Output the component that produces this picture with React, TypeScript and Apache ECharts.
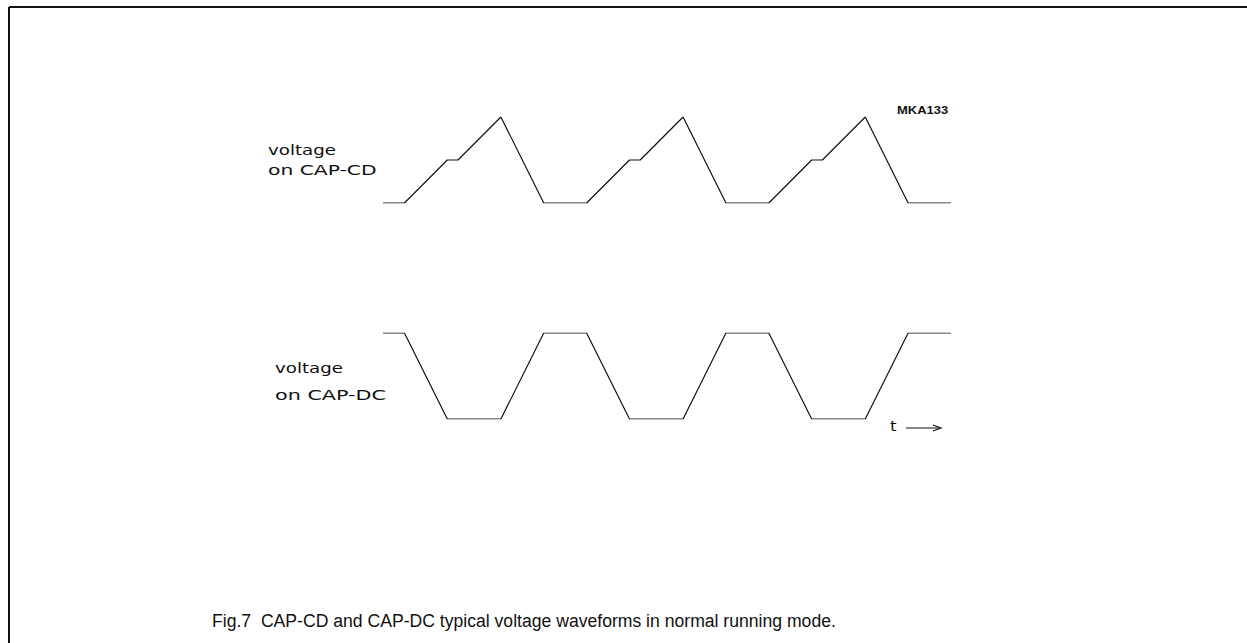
import React, { useEffect, useRef } from "react";
import * as echarts from "echarts";

// Time axis (arbitrary units) and voltage levels for each waveform
const cdTimes = [0, 1, 3, 3.5, 5.5, 7.5, 9.5, 11.5, 12, 14, 16, 18, 20, 20.5, 22.5, 24.5, 26.5];
const cdLevels = [0, 0, 1, 1, 2, 0, 0, 1, 1, 2, 0, 0, 1, 1, 2, 0, 0];
const dcTimes = [0, 1, 3, 5.5, 7.5, 9.5, 11.5, 14, 16, 18, 20, 22.5, 24.5, 26.5];
const dcLevels = [1, 1, 0, 0, 1, 1, 0, 0, 1, 1, 0, 0, 1, 1];

const cdLabel = ["voltage", "on CAP-CD"];
const dcLabel = ["voltage", "on CAP-DC"];
const figCode = "MKA133";
const timeLabel = "t";
const caption = "Fig.7  CAP-CD and CAP-DC typical voltage waveforms in normal running mode.";

const LABEL_FONT = "'DejaVu Sans', sans-serif";
const INK = "#111";

export default function App() {
  const ref = useRef<HTMLDivElement>(null);

  useEffect(() => {
    if (!ref.current) return;
    const chart = echarts.init(ref.current, undefined, { renderer: "svg" });

    const lineStyle = { color: INK, width: 1.2 };
    const hiddenX = (gridIndex: number) => ({
      type: "value" as const,
      gridIndex,
      min: 0,
      max: 26.5,
      show: false,
    });
    const label = (text: string, x: number, y: number, scaleX: number, font: string) => ({
      type: "text",
      x,
      y,
      scaleX,
      style: { text, font, fill: INK, align: "left", verticalAlign: "middle" },
    });

    chart.setOption({
      animation: false,
      backgroundColor: "#fff",
      grid: [
        { left: 383, top: 117, width: 568, height: 86 },
        { left: 383, top: 333, width: 568, height: 86 },
      ],
      xAxis: [hiddenX(0), hiddenX(1)],
      yAxis: [
        { type: "value", gridIndex: 0, min: 0, max: 2, show: false },
        { type: "value", gridIndex: 1, min: 0, max: 1, show: false },
      ],
      series: [
        {
          type: "line",
          xAxisIndex: 0,
          yAxisIndex: 0,
          data: cdTimes.map((t, i) => [t, cdLevels[i]]),
          showSymbol: false,
          lineStyle,
          silent: true,
        },
        {
          type: "line",
          xAxisIndex: 1,
          yAxisIndex: 1,
          data: dcTimes.map((t, i) => [t, dcLevels[i]]),
          showSymbol: false,
          lineStyle,
          silent: true,
        },
      ],
      graphic: [
        // frame
        { type: "line", shape: { x1: 9, y1: 7, x2: 1247, y2: 7 }, style: { stroke: INK, lineWidth: 2 } },
        { type: "line", shape: { x1: 9, y1: 7, x2: 9, y2: 643 }, style: { stroke: INK, lineWidth: 2 } },
        // CAP-CD label
        label(cdLabel[0], 268, 150, 1.3, `14px ${LABEL_FONT}`),
        label(cdLabel[1], 268, 170, 1.45, `14px ${LABEL_FONT}`),
        // CAP-DC label
        label(dcLabel[0], 275, 368, 1.3, `14px ${LABEL_FONT}`),
        label(dcLabel[1], 275, 395, 1.48, `14px ${LABEL_FONT}`),
        // figure code
        label(figCode, 897, 110.5, 1.3, `bold 10px 'Liberation Sans', Arial, sans-serif`),
        // time arrow
        label(timeLabel, 890, 426, 1.2, `14px ${LABEL_FONT}`),
        { type: "line", shape: { x1: 906, y1: 428, x2: 940, y2: 428 }, style: { stroke: INK, lineWidth: 1.2 } },
        { type: "polyline", shape: { points: [[933, 425], [941, 428], [933, 431]] }, style: { stroke: INK, lineWidth: 1.2, fill: null } },
        // caption
        label(caption, 212, 621, 1, `17.6px 'Liberation Sans', Arial, sans-serif`),
      ],
    });

    return () => chart.dispose();
  }, []);

  return (
    <div
      ref={ref}
      style={{ position: "fixed", left: 0, top: 0, width: 1247, height: 643 }}
    />
  );
}
